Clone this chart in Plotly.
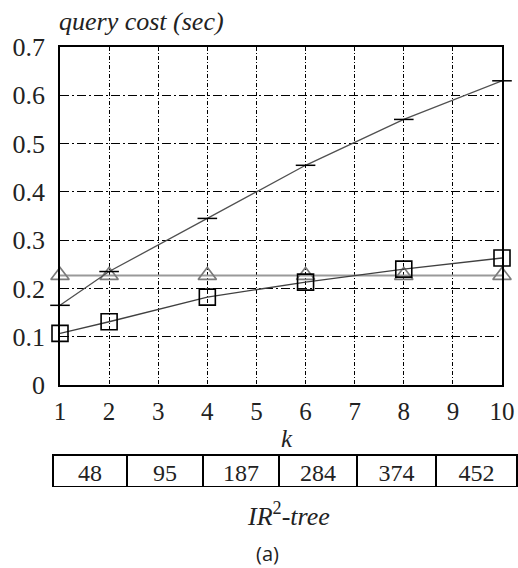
import plotly.graph_objects as go

k_values = [1, 2, 4, 6, 8, 10]
cost_plus = [0.165, 0.235, 0.345, 0.455, 0.550, 0.630]
cost_triangle = [0.227, 0.227, 0.227, 0.227, 0.227, 0.227]
cost_square = [0.107, 0.131, 0.182, 0.213, 0.240, 0.263]
ir2_tree_values = [48, 95, 187, 284, 374, 452]
x_ticks = [1, 2, 3, 4, 5, 6, 7, 8, 9, 10]
y_ticks = [0, 0.1, 0.2, 0.3, 0.4, 0.5, 0.6, 0.7]

W, H = 518, 568
serif = "Liberation Serif, Times New Roman, serif"

fig = go.Figure()

fig.add_trace(go.Scatter(
    x=k_values, y=cost_triangle, mode="lines+markers",
    line=dict(color="#9a9a9a", width=2),
    marker=dict(symbol="triangle-up-open", size=16, color="#7a7a7a",
                line=dict(width=1.6, color="#7a7a7a")),
    showlegend=False, cliponaxis=False))

fig.add_trace(go.Scatter(
    x=k_values, y=cost_plus, mode="lines+markers",
    line=dict(color="#505050", width=1.3),
    marker=dict(symbol="line-ew-open", size=14, color="black",
                line=dict(width=1.5, color="black")),
    showlegend=False, cliponaxis=False))

fig.add_trace(go.Scatter(
    x=k_values, y=cost_square, mode="lines+markers",
    line=dict(color="#404040", width=1.3),
    marker=dict(symbol="square-open", size=16, color="black",
                line=dict(width=1.6, color="black")),
    showlegend=False, cliponaxis=False))

fig.add_trace(go.Table(
    domain=dict(x=[53 / W, 517 / W], y=[1 - 487 / H, 1 - 455 / H]),
    columnwidth=[74, 76, 76, 78, 79, 81],
    header=dict(values=[str(v) for v in ir2_tree_values],
                height=32, align="center",
                line=dict(color="black", width=1.5),
                fill=dict(color="white"),
                font=dict(family=serif, size=24, color="#222")),
))

fig.update_layout(
    width=W, height=H,
    margin=dict(l=0, r=0, t=0, b=0),
    paper_bgcolor="white", plot_bgcolor="white",
    xaxis=dict(
        domain=[60 / W, 502 / W], range=[1, 10],
        tickvals=x_ticks, ticktext=[str(v) for v in x_ticks],
        showline=True, linecolor="black", linewidth=1.5, mirror=True,
        showgrid=True, gridcolor="black", gridwidth=1.3,
        griddash="4px,2px,1px,2px",
        zeroline=False, ticks="", ticklabelstandoff=3,
        tickfont=dict(family=serif, size=25, color="#222"),
        automargin=False),
    yaxis=dict(
        domain=[1 - 385 / H, 1 - 47 / H], range=[0, 0.7],
        tickvals=y_ticks, ticktext=["0" if v == 0 else f"{v:.1f}" for v in y_ticks],
        showline=True, linecolor="black", linewidth=1.5, mirror=True,
        showgrid=True, gridcolor="black", gridwidth=1.3,
        griddash="9px,3px,2px,3px",
        zeroline=False, ticks="", ticklabelstandoff=8,
        tickfont=dict(family=serif, size=26, color="#222"),
        automargin=False),
    annotations=[
        dict(text="<i>query cost (sec)</i>", xref="paper", yref="paper",
             x=57 / W, y=1 - 22 / H, xanchor="left", yanchor="middle",
             showarrow=False, font=dict(family=serif, size=26, color="#222")),
        dict(text="<i>k</i>", xref="paper", yref="paper",
             x=287 / W, y=1 - 438 / H, xanchor="center", yanchor="middle",
             showarrow=False, font=dict(family=serif, size=25, color="#222")),
        dict(text="<i>IR</i><sup>2</sup><i>-tree</i>", xref="paper", yref="paper",
             x=288 / W, y=1 - 514 / H, xanchor="center", yanchor="middle",
             showarrow=False, font=dict(family=serif, size=26, color="#222")),
        dict(text="(a)", xref="paper", yref="paper",
             x=267 / W, y=1 - 553 / H, xanchor="center", yanchor="middle",
             showarrow=False, font=dict(family="Open Sans", size=20, color="#222")),
    ],
)

fig.write_html("out.html",
               config={"displayModeBar": False},
               post_script="document.body.style.margin='0';document.body.style.overflow='hidden';")
